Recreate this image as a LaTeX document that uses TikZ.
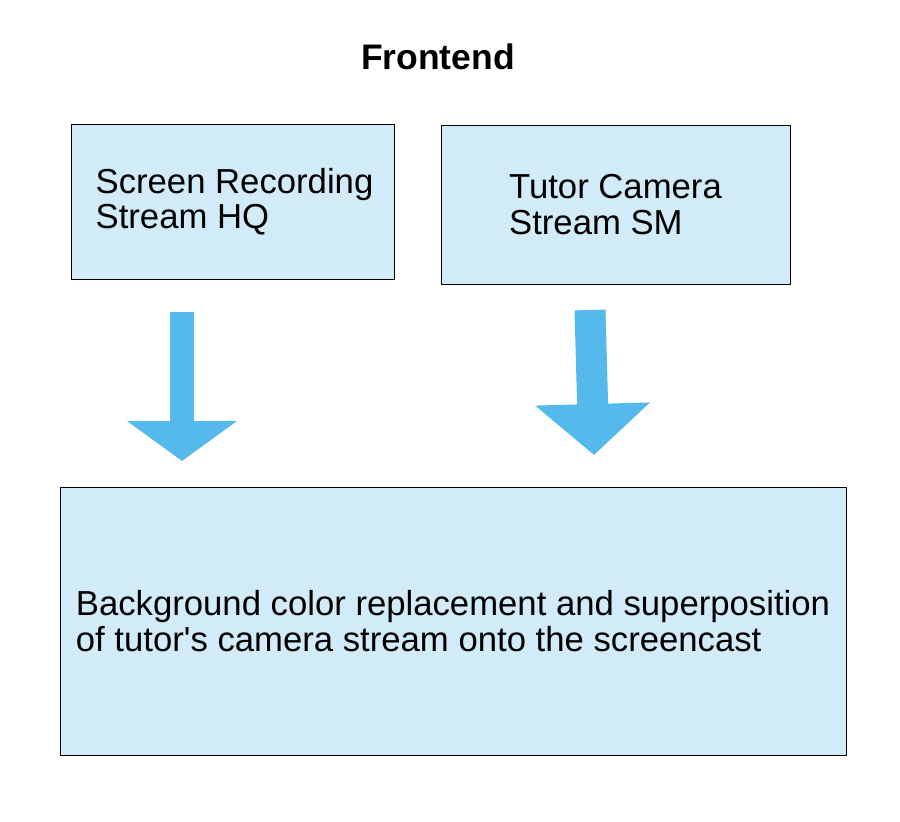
\documentclass[tikz,border=0pt]{standalone}
\usepackage{fontspec}
\setmainfont{Liberation Sans}
\usetikzlibrary{arrows.meta,positioning}
\definecolor{boxblue}{RGB}{210,235,248}
\definecolor{arrowblue}{RGB}{85,185,236}
\tikzset{
  stage/.style={draw,fill=boxblue,line width=1pt,inner sep=0pt,outer sep=0pt,
    align=left,font=\fontsize{34.7pt}{35.5pt}\selectfont},
  flow/.style n args={3}{draw=arrowblue,line width=#1,
    -{Triangle[width=#2,length=#3,fill=arrowblue]}}
}
\begin{document}
\begin{tikzpicture}[x=1pt,y=-1pt]
  \useasboundingbox (0,0) rectangle (900,822);
  \node[font=\fontsize{35.5pt}{36pt}\selectfont\bfseries] (title) at (438,57) {Frontend};
  \node[stage,minimum width=323pt,minimum height=155pt] (screen) at (232.5,201.5)
    {\hspace*{4pt}Screen Recording\\\hspace*{4pt}Stream HQ};
  \node[stage,minimum width=349pt,minimum height=159pt] (camera) at (615.5,204.5)
    {Tutor Camera\\Stream SM};
  \node[stage,minimum width=786pt,minimum height=268pt] (merge) at (453,621)
    {Background color replacement and superposition\\of tutor\textquotesingle s camera stream onto the screencast};
  % block arrows between the stages
  \coordinate (s1) at (182,312); \coordinate (e1) at (182,461);
  \coordinate (s2) at (590,310); \coordinate (e2) at (594,455);
  \draw[flow={24pt}{108pt}{40pt}] (s1)--(e1);
  \draw[flow={31pt}{112pt}{51pt}] (s2)--(e2);
\end{tikzpicture}
\end{document}
